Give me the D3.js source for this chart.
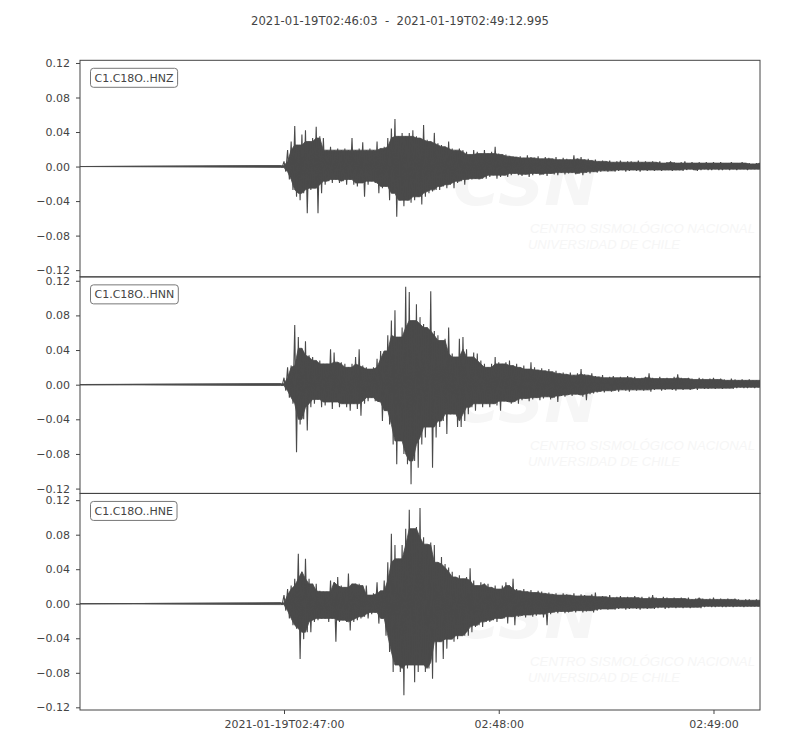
<!DOCTYPE html>
<html>
<head>
<meta charset="utf-8">
<script src="https://cdn.jsdelivr.net/npm/d3@7"></script>
<style>
body { margin: 0; background: #fff; }
svg { font-family: "DejaVu Sans", sans-serif; font-size: 11px; }
.axis { font-family: "DejaVu Sans", sans-serif; font-size: 11px; }
.axis path { display: none; }
.axis line { stroke: #444; }
.axis text { fill: #444; }
.frame { fill: none; stroke: #444; stroke-width: 1; }
.core { fill: #4a4a4a; stroke: #4a4a4a; stroke-width: 0.8; }
.wave { fill: none; stroke: #4a4a4a; stroke-width: 1.1; stroke-linejoin: bevel; }
.label rect { fill: #fff; stroke: #777; stroke-width: 1; }
.label text { fill: #444; }
.mark text { fill: #f6f6f6; font-style: italic; }
</style>
</head>
<body>
<svg id="chart" width="800" height="750"></svg>
<script>
// record 2021-01-19T02:46:03 .. 02:49:12.995, station C1.C18O
var startMs = Date.UTC(2021, 0, 19, 2, 46, 3);
var duration = 189.995;          // seconds
var quietEnd = 56;               // first envelope sample, seconds after start
var channels = ["C1.C18O..HNZ", "C1.C18O..HNN", "C1.C18O..HNE"];
var yLimits = [[-0.1278, 0.1231], [-0.1256, 0.1245], [-0.1231, 0.1278]];
var yTicks = [-0.12, -0.08, -0.04, 0, 0.04, 0.08, 0.12];
var xTickSec = [57, 117, 177];
var xTickLabels = ["2021-01-19T02:47:00", "02:48:00", "02:49:00"];

// per-second max / min of each trace, from t = 56 s to 190 s
var hnzTop = [
  0.001,0.006,0.019,0.029,0.047,0.025,0.037,0.042,0.029,0.033,
  0.046,0.035,0.033,0.019,0.023,0.019,0.021,0.019,0.021,0.019,
  0.033,0.019,0.021,0.028,0.019,0.021,0.019,0.029,0.021,0.023,
  0.033,0.044,0.055,0.035,0.039,0.035,0.039,0.042,0.035,0.033,
  0.048,0.031,0.029,0.039,0.027,0.025,0.023,0.029,0.021,0.019,
  0.021,0.019,0.017,0.014,0.019,0.017,0.015,0.019,0.015,0.017,
  0.023,0.015,0.014,0.014,0.012,0.012,0.011,0.012,0.010,0.013,
  0.011,0.010,0.012,0.009,0.011,0.010,0.009,0.011,0.008,0.010,
  0.009,0.008,0.013,0.009,0.011,0.008,0.009,0.007,0.008,0.006,
  0.007,0.006,0.007,0.005,0.006,0.007,0.005,0.006,0.006,0.005,
  0.007,0.005,0.006,0.005,0.006,0.005,0.006,0.004,0.005,0.006,
  0.005,0.004,0.005,0.006,0.004,0.005,0.004,0.005,0.004,0.005,
  0.004,0.005,0.004,0.005,0.004,0.004,0.005,0.004,0.004,0.005,
  0.004,0.004,0.003,0.004,0.004];
var hnzBot = [
  -0.001,-0.006,-0.015,-0.027,-0.035,-0.039,-0.031,-0.054,-0.027,-0.025,
  -0.054,-0.031,-0.021,-0.017,-0.019,-0.015,-0.019,-0.017,-0.021,-0.015,
  -0.021,-0.023,-0.019,-0.035,-0.021,-0.017,-0.019,-0.031,-0.025,-0.023,
  -0.039,-0.031,-0.058,-0.039,-0.046,-0.039,-0.042,-0.039,-0.035,-0.044,
  -0.035,-0.031,-0.029,-0.027,-0.027,-0.023,-0.025,-0.021,-0.025,-0.019,
  -0.017,-0.021,-0.015,-0.015,-0.014,-0.015,-0.014,-0.014,-0.012,-0.010,
  -0.014,-0.012,-0.010,-0.012,-0.010,-0.008,-0.010,-0.011,-0.009,-0.012,
  -0.010,-0.008,-0.010,-0.009,-0.011,-0.008,-0.009,-0.010,-0.007,-0.009,
  -0.008,-0.007,-0.009,-0.008,-0.010,-0.007,-0.008,-0.006,-0.007,-0.006,
  -0.005,-0.006,-0.005,-0.006,-0.005,-0.004,-0.006,-0.005,-0.004,-0.005,
  -0.006,-0.004,-0.005,-0.004,-0.005,-0.004,-0.005,-0.004,-0.004,-0.005,
  -0.004,-0.004,-0.005,-0.004,-0.003,-0.004,-0.005,-0.004,-0.003,-0.004,
  -0.004,-0.003,-0.004,-0.004,-0.003,-0.004,-0.003,-0.004,-0.003,-0.003,
  -0.004,-0.003,-0.003,-0.003,-0.003];
var hnnTop = [
  0.001,0.008,0.020,0.022,0.069,0.055,0.042,0.050,0.034,0.032,
  0.028,0.028,0.024,0.024,0.041,0.037,0.026,0.026,0.024,0.020,
  0.024,0.032,0.041,0.022,0.020,0.018,0.020,0.030,0.039,0.039,
  0.057,0.074,0.086,0.055,0.066,0.113,0.107,0.074,0.093,0.078,
  0.070,0.066,0.108,0.062,0.057,0.051,0.053,0.066,0.036,0.032,
  0.053,0.055,0.041,0.032,0.037,0.036,0.028,0.024,0.020,0.024,
  0.032,0.026,0.024,0.026,0.028,0.022,0.024,0.020,0.022,0.018,
  0.026,0.020,0.017,0.019,0.016,0.018,0.015,0.016,0.013,0.014,
  0.012,0.014,0.011,0.013,0.018,0.012,0.011,0.013,0.010,0.009,
  0.011,0.008,0.009,0.010,0.008,0.009,0.008,0.010,0.008,0.009,
  0.007,0.008,0.009,0.013,0.008,0.007,0.009,0.007,0.008,0.007,
  0.009,0.012,0.008,0.007,0.008,0.007,0.006,0.008,0.007,0.006,
  0.007,0.008,0.006,0.007,0.006,0.005,0.007,0.006,0.005,0.006,
  0.005,0.006,0.005,0.005,0.005];
var hnnBot = [
  -0.001,-0.007,-0.015,-0.022,-0.078,-0.046,-0.040,-0.053,-0.026,-0.022,
  -0.017,-0.026,-0.024,-0.020,-0.028,-0.020,-0.026,-0.022,-0.026,-0.030,
  -0.022,-0.028,-0.036,-0.022,-0.019,-0.015,-0.019,-0.020,-0.042,-0.030,
  -0.046,-0.069,-0.092,-0.065,-0.080,-0.092,-0.115,-0.088,-0.096,-0.069,
  -0.061,-0.049,-0.096,-0.061,-0.049,-0.042,-0.057,-0.034,-0.034,-0.049,
  -0.049,-0.042,-0.034,-0.026,-0.030,-0.022,-0.026,-0.022,-0.026,-0.022,
  -0.024,-0.030,-0.019,-0.020,-0.022,-0.020,-0.022,-0.018,-0.016,-0.019,
  -0.017,-0.015,-0.018,-0.016,-0.014,-0.017,-0.015,-0.020,-0.013,-0.014,
  -0.012,-0.013,-0.011,-0.012,-0.014,-0.018,-0.011,-0.010,-0.009,-0.008,
  -0.009,-0.007,-0.008,-0.007,-0.008,-0.006,-0.007,-0.008,-0.006,-0.007,
  -0.006,-0.007,-0.006,-0.008,-0.006,-0.005,-0.007,-0.006,-0.005,-0.006,
  -0.007,-0.005,-0.006,-0.005,-0.006,-0.005,-0.006,-0.004,-0.005,-0.005,
  -0.004,-0.005,-0.004,-0.005,-0.004,-0.004,-0.005,-0.004,-0.003,-0.004,
  -0.004,-0.003,-0.004,-0.003,-0.003];
var hneTop = [
  0.001,0.010,0.017,0.021,0.029,0.058,0.037,0.052,0.029,0.023,
  0.023,0.015,0.014,0.014,0.027,0.025,0.031,0.021,0.019,0.035,
  0.023,0.023,0.023,0.021,0.021,0.010,0.012,0.025,0.015,0.027,
  0.048,0.081,0.068,0.052,0.068,0.087,0.109,0.087,0.089,0.111,
  0.077,0.069,0.071,0.068,0.048,0.054,0.046,0.042,0.037,0.031,
  0.033,0.029,0.031,0.041,0.027,0.021,0.025,0.023,0.023,0.019,
  0.021,0.017,0.021,0.025,0.021,0.029,0.017,0.015,0.017,0.014,
  0.016,0.013,0.015,0.014,0.012,0.013,0.011,0.012,0.010,0.012,
  0.011,0.010,0.012,0.009,0.011,0.010,0.009,0.011,0.013,0.008,
  0.009,0.008,0.010,0.007,0.008,0.009,0.007,0.008,0.007,0.009,
  0.007,0.008,0.006,0.008,0.010,0.007,0.006,0.008,0.007,0.006,
  0.007,0.006,0.007,0.006,0.007,0.005,0.006,0.007,0.006,0.005,
  0.006,0.007,0.005,0.006,0.005,0.006,0.005,0.006,0.005,0.004,
  0.005,0.005,0.004,0.005,0.004];
var hneBot = [
  -0.001,-0.008,-0.017,-0.025,-0.029,-0.064,-0.041,-0.033,-0.033,-0.021,
  -0.019,-0.017,-0.017,-0.021,-0.017,-0.044,-0.021,-0.019,-0.021,-0.031,
  -0.021,-0.019,-0.017,-0.015,-0.017,-0.012,-0.010,-0.023,-0.017,-0.037,
  -0.056,-0.079,-0.071,-0.079,-0.106,-0.075,-0.071,-0.091,-0.079,-0.071,
  -0.079,-0.075,-0.087,-0.068,-0.044,-0.064,-0.052,-0.041,-0.044,-0.041,
  -0.037,-0.037,-0.037,-0.033,-0.027,-0.025,-0.027,-0.021,-0.021,-0.019,
  -0.021,-0.017,-0.017,-0.023,-0.015,-0.025,-0.015,-0.014,-0.016,-0.013,
  -0.015,-0.014,-0.012,-0.016,-0.025,-0.012,-0.010,-0.011,-0.009,-0.011,
  -0.010,-0.009,-0.010,-0.008,-0.010,-0.009,-0.008,-0.010,-0.008,-0.007,
  -0.006,-0.007,-0.006,-0.007,-0.006,-0.005,-0.007,-0.006,-0.005,-0.006,
  -0.007,-0.005,-0.006,-0.005,-0.006,-0.005,-0.004,-0.006,-0.005,-0.004,
  -0.005,-0.004,-0.005,-0.004,-0.005,-0.004,-0.004,-0.005,-0.004,-0.003,
  -0.004,-0.004,-0.003,-0.004,-0.004,-0.003,-0.004,-0.003,-0.003,-0.004,
  -0.003,-0.003,-0.003,-0.003,-0.003];

var tops = [hnzTop, hnnTop, hneTop];
var bots = [hnzBot, hnnBot, hneBot];

var plotLeft = 80, plotRight = 760, plotTop = 60.3, plotBottom = 710;
var panelH = (plotBottom - plotTop) / 3;

function at(sec) { return new Date(startMs + sec * 1000); }

var svg = d3.select("#chart");

var x = d3.scaleUtc()
    .domain([at(0), at(duration)])
    .range([plotLeft, plotRight]);

svg.append("text")
    .attr("x", 400).attr("y", 25)
    .attr("text-anchor", "middle")
    .attr("fill", "#444")
    .attr("font-size", 11.6)
    .style("white-space", "pre")
    .text("2021-01-19T02:46:03  -  2021-01-19T02:49:12.995");

channels.forEach(function(name, k) {
    var top = plotTop + k * panelH;
    var y = d3.scaleLinear().domain(yLimits[k]).range([top + panelH, top]);
    var g = svg.append("g");
    var hi = tops[k], lo = bots[k];

    svg.append("clipPath").attr("id", "clip" + k)
      .append("rect")
        .attr("x", plotLeft).attr("y", top)
        .attr("width", plotRight - plotLeft).attr("height", panelH);

    // faint CSN watermark
    var mark = g.append("g").attr("class", "mark");
    mark.append("text")
        .attr("x", 453).attr("y", top + 145)
        .attr("font-size", 62).attr("font-weight", "bold")
        .attr("textLength", 145).attr("lengthAdjust", "spacingAndGlyphs")
        .text("CSN");
    mark.append("text")
        .attr("x", 530).attr("y", top + 173)
        .attr("font-family", "Liberation Sans, sans-serif")
        .attr("font-size", 12)
        .attr("textLength", 225).attr("lengthAdjust", "spacingAndGlyphs")
        .text("CENTRO SISMOLÓGICO NACIONAL");
    mark.append("text")
        .attr("x", 528).attr("y", top + 189)
        .attr("font-family", "Liberation Sans, sans-serif")
        .attr("font-size", 12)
        .attr("textLength", 152).attr("lengthAdjust", "spacingAndGlyphs")
        .text("UNIVERSIDAD DE CHILE");

    var clip = g.append("g").attr("clip-path", "url(#clip" + k + ")");

    // solid body: the smaller of neighbouring peaks, so single peaks stand out
    var core = [{ t: 0, hi: 0, lo: 0 }];
    hi.forEach(function(v, i) {
        var a = Math.max(0, i - 1), b = Math.min(hi.length - 1, i + 1);
        core.push({
            t: quietEnd + i,
            hi: d3.min([hi[a], v, hi[b]]),
            lo: d3.max([lo[a], lo[i], lo[b]])
        });
    });
    var area = d3.area()
        .x(function(d) { return x(at(d.t)); })
        .y0(function(d) { return y(d.lo); })
        .y1(function(d) { return y(d.hi); });
    clip.append("path").attr("class", "core").attr("d", area(core));

    // trace: quiet start, then alternating per-second max / min
    var pts = [[0, 0]];
    hi.forEach(function(v, i) {
        pts.push([quietEnd + i, v]);
        pts.push([quietEnd + i + 0.5, lo[i]]);
    });
    var line = d3.line()
        .x(function(d) { return x(at(d[0])); })
        .y(function(d) { return y(d[1]); });
    clip.append("path").attr("class", "wave").attr("d", line(pts));

    g.append("g")
        .attr("class", "axis")
        .attr("transform", "translate(" + plotLeft + ",0)")
        .call(d3.axisLeft(y).tickValues(yTicks).tickSize(4).tickPadding(6)
            .tickFormat(d3.format(".2f")));

    g.append("rect")
        .attr("class", "frame")
        .attr("x", plotLeft).attr("y", top)
        .attr("width", plotRight - plotLeft).attr("height", panelH);

    var lab = g.append("g").attr("class", "label");
    var box = lab.append("rect").attr("rx", 3).attr("ry", 3);
    var txt = lab.append("text")
        .attr("x", 94.5).attr("y", top + 21.5)
        .text(name);
    var w = txt.node().getComputedTextLength();
    box.attr("x", 90.5).attr("y", top + 8)
        .attr("width", w + 8).attr("height", 19);
});

svg.append("g")
    .attr("class", "axis")
    .attr("transform", "translate(0," + plotBottom + ")")
    .call(d3.axisBottom(x)
        .tickValues(xTickSec.map(at))
        .tickSize(4).tickPadding(6)
        .tickFormat(function(d, i) { return xTickLabels[i]; }));
</script>
</body>
</html>
